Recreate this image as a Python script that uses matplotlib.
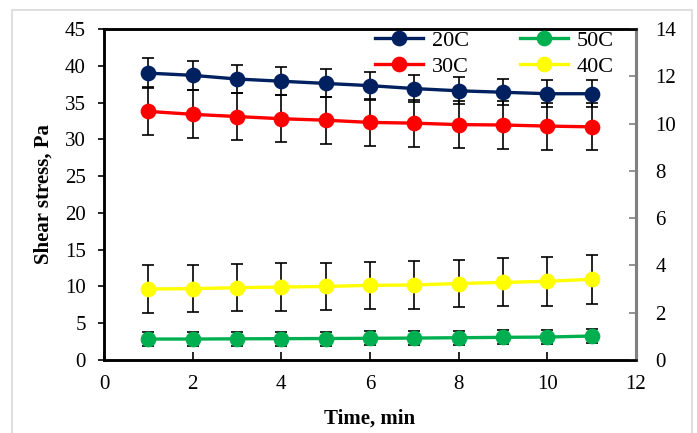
import numpy as np
import matplotlib.pyplot as plt
from matplotlib.patches import Rectangle

plt.rcParams['font.family'] = 'Liberation Serif'

# data
time_min = [1, 2, 3, 4, 5, 6, 7, 8, 9, 10, 11]
s20 = [39.0, 38.7, 38.2, 37.9, 37.6, 37.3, 36.9, 36.6, 36.4, 36.2, 36.2]
e20 = [2.0, 2.0, 1.95, 1.9, 1.9, 1.9, 1.85, 1.85, 1.8, 1.8, 1.8]
s50 = [2.85, 2.85, 2.88, 2.9, 2.92, 2.95, 2.98, 3.03, 3.08, 3.12, 3.26]
e50 = [0.95, 0.95, 0.95, 0.95, 0.95, 0.95, 0.95, 0.95, 0.95, 0.95, 0.95]
s30 = [33.8, 33.4, 33.1, 32.8, 32.6, 32.3, 32.2, 32.0, 31.95, 31.8, 31.7]
e30 = [3.25, 3.25, 3.2, 3.2, 3.2, 3.2, 3.2, 3.2, 3.2, 3.2, 3.2]
s40 = [9.65, 9.7, 9.83, 9.92, 10.0, 10.15, 10.2, 10.4, 10.55, 10.7, 10.97]
e40 = [3.2, 3.2, 3.2, 3.2, 3.2, 3.2, 3.2, 3.2, 3.25, 3.3, 3.3]

labels = ['20C', '50C', '30C', '40C']
series = [s20, s50, s30, s40]
errors = [e20, e50, e30, e40]
colors = ['#002060', '#00B050', '#FF0000', '#FFFF00']

fig = plt.figure(figsize=(6.97, 4.33), dpi=100)
fig.patches.append(Rectangle((12/697, -0.05), 680/697, 1.05 - 10/433,
                             transform=fig.transFigure, fill=False,
                             edgecolor='#D9D9D9', lw=1.2))

ax = fig.add_axes([104/697, 73/433, 532/697, 331/433])
ax2 = ax.twinx()

handles = {}
for lab, y, e, c in zip(labels, series, errors, colors):
    ax.errorbar(time_min, y, yerr=e, fmt='none', ecolor='black',
                elinewidth=1.2, capsize=4.5, capthick=1.2, zorder=2)
    h, = ax.plot(time_min, y, color=c, lw=2.4, marker='o', markersize=10.3,
                 zorder=3, label=lab)
    handles[lab] = h

ax.set_xlim(0, 12)
ax.set_ylim(0, 45)
ax.set_xticks(range(0, 13, 2))
ax.set_yticks(range(0, 46, 5))
ax2.set_ylim(0, 14)
ax2.set_yticks(range(0, 15, 2))

ax.tick_params(axis='y', direction='out', length=4, width=1.2, pad=9, labelsize=15)
ax.tick_params(axis='x', direction='in', length=6, width=1.2, pad=11, labelsize=15)
ax2.tick_params(axis='y', direction='in', length=5, width=1.2, pad=14,
                labelsize=15, color='#808080')

for a in (ax, ax2):
    for s in ('left', 'bottom', 'top'):
        a.spines[s].set_color('black')
        a.spines[s].set_linewidth(1.8)
    a.spines['right'].set_color('#808080')
    a.spines['right'].set_linewidth(2.2)

ax.set_xlabel('Time, min', fontsize=15, fontweight='bold', labelpad=10)
ax.set_ylabel('Shear stress, Pa', fontsize=15, fontweight='bold', labelpad=8)

order = ['20C', '30C', '50C', '40C']
ax2.legend([handles[k] for k in order], order, ncol=2, frameon=False,
           loc='upper left', bbox_to_anchor=(375/697, 1 - 30/433),
           bbox_transform=fig.transFigure, fontsize=16, borderpad=0,
           borderaxespad=0, handlelength=2.15, handletextpad=0.4,
           columnspacing=2.3, labelspacing=0.25)

fig.savefig('out.png', dpi=100)
